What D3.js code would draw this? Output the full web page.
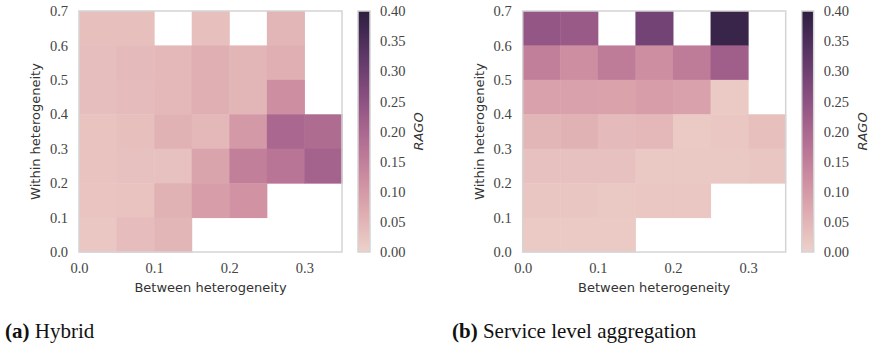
<!DOCTYPE html>
<html>
<head>
<meta charset="utf-8">
<script src="https://cdn.jsdelivr.net/npm/d3@7"></script>
<style>
  body { margin: 0; background: #fff; }
  .tick text { font-family: "Liberation Serif", "DejaVu Serif", serif; font-size: 14.5px; fill: #444; }
  .lbl { font-family: "DejaVu Sans", sans-serif; font-size: 13px; fill: #333; }
  .cap { font-family: "Liberation Serif", serif; font-size: 21px; fill: #111; }
</style>
</head>
<body>
<div id="chart"></div>
<script>
// bins (lower edges)
var xBins = [0, 0.05, 0.10, 0.15, 0.20, 0.25, 0.30];
var yBins = [0.6, 0.5, 0.4, 0.3, 0.2, 0.1, 0.0]; // rows listed top to bottom
var xTicks = [0, 0.1, 0.2, 0.3];
var yTicks = [0, 0.1, 0.2, 0.3, 0.4, 0.5, 0.6, 0.7];
var cbTicks = [0, 0.05, 0.10, 0.15, 0.20, 0.25, 0.30, 0.35, 0.40];

// RAGO, null = no data
var hybrid = [
  [0.030, 0.030, null,  0.030, null,  0.050, null ],
  [0.033, 0.040, 0.045, 0.060, 0.050, 0.060, null ],
  [0.033, 0.037, 0.045, 0.060, 0.050, 0.120, null ],
  [0.025, 0.030, 0.055, 0.045, 0.100, 0.200, 0.190],
  [0.025, 0.028, 0.028, 0.080, 0.150, 0.170, 0.210],
  [0.022, 0.025, 0.055, 0.090, 0.110, null,  null ],
  [0.018, 0.035, 0.050, null,  null,  null,  null ]
];
var service = [
  [0.240, 0.230, null,  0.290, null,  0.380, null ],
  [0.150, 0.120, 0.155, 0.120, 0.155, 0.220, null ],
  [0.085, 0.085, 0.082, 0.090, 0.085, 0.012, null ],
  [0.050, 0.055, 0.040, 0.045, 0.012, 0.018, 0.030],
  [0.028, 0.028, 0.028, 0.015, 0.015, 0.015, 0.020],
  [0.020, 0.020, 0.015, 0.018, 0.018, null,  null ],
  [0.012, 0.013, 0.012, null,  null,  null,  null ]
];
var captions = [["(a)", "Hybrid"], ["(b)", "Service level aggregation"]];

// seaborn default cubehelix_palette (start 0, rot .4, hue .8, light .85, dark .15)
function cubehelix(v) {
  var x = 0.85 - 0.7 * v, a = 0.8 * x * (1 - x) / 2, phi = 2 * Math.PI * (0.4 * x);
  var c = Math.cos(phi), s = Math.sin(phi);
  var r = x + a * (-0.14861 * c + 1.78277 * s),
      g = x + a * (-0.29227 * c - 0.90649 * s),
      b = x + a * (1.97294 * c);
  function cl(q) { return Math.round(Math.max(0, Math.min(1, q)) * 255); }
  return "rgb(" + cl(r) + "," + cl(g) + "," + cl(b) + ")";
}

var W = 873, H = 349;
var svg = d3.select("#chart").append("svg").attr("width", W).attr("height", H);

var color = d3.scaleSequential(cubehelix).domain([0, 0.4]);

var grad = svg.append("defs").append("linearGradient")
  .attr("id", "cbgrad").attr("x1", 0).attr("y1", 1).attr("x2", 0).attr("y2", 0);
d3.range(0, 1.0001, 0.05).forEach(function(t) {
  grad.append("stop").attr("offset", t).attr("stop-color", cubehelix(t));
});

function panel(offset, data, cap) {
  var left = 79 + offset, right = 342 + offset, top = 11, bottom = 252;
  var x = d3.scaleLinear().domain([0, 0.35]).range([left, right]);
  var y = d3.scaleLinear().domain([0, 0.7]).range([bottom, top]);
  var g = svg.append("g");

  var cells = [];
  data.forEach(function(row, i) {
    row.forEach(function(v, j) {
      if (v !== null) cells.push({ x0: xBins[j], y0: yBins[i], v: v });
    });
  });
  g.selectAll("rect.cell").data(cells).enter().append("rect")
    .attr("class", "cell")
    .attr("x", function(d) { return x(d.x0); })
    .attr("y", function(d) { return y(d.y0 + 0.1); })
    .attr("width", function(d) { return x(d.x0 + 0.05) - x(d.x0) + 0.5; })
    .attr("height", function(d) { return y(d.y0) - y(d.y0 + 0.1) + 0.5; })
    .attr("fill", function(d) { return color(d.v); });

  g.append("rect").attr("x", left).attr("y", top)
    .attr("width", right - left).attr("height", bottom - top)
    .attr("fill", "none").attr("stroke", "#d4d4d4").attr("stroke-width", 1.5);

  g.append("g").attr("transform", "translate(0," + bottom + ")")
    .call(d3.axisBottom(x).tickValues(xTicks).tickFormat(d3.format(".1f")).tickSize(0).tickPadding(11))
    .call(function(a) { a.select(".domain").remove(); });
  g.append("g").attr("transform", "translate(" + left + ",0)")
    .call(d3.axisLeft(y).tickValues(yTicks).tickFormat(d3.format(".1f")).tickSize(0).tickPadding(11))
    .call(function(a) { a.select(".domain").remove(); });

  g.append("text").attr("class", "lbl")
    .attr("x", (left + right) / 2).attr("y", 292)
    .attr("text-anchor", "middle").text("Between heterogeneity");
  g.append("text").attr("class", "lbl")
    .attr("transform", "translate(" + (40 + offset) + "," + ((top + bottom) / 2) + ") rotate(-90)")
    .attr("text-anchor", "middle").text("Within heterogeneity");

  // colorbar
  var cbx = 358 + offset, cbw = 12;
  var cy = d3.scaleLinear().domain([0, 0.4]).range([bottom, top]);
  g.append("rect").attr("x", cbx).attr("y", top).attr("width", cbw).attr("height", bottom - top)
    .attr("fill", "url(#cbgrad)").attr("stroke", "#d4d4d4").attr("stroke-width", 1.5);
  g.append("g").attr("transform", "translate(" + (cbx + cbw) + ",0)")
    .call(d3.axisRight(cy).tickValues(cbTicks).tickFormat(d3.format(".2f")).tickSize(0).tickPadding(10))
    .call(function(a) { a.select(".domain").remove(); });
  g.append("text").attr("class", "lbl")
    .attr("transform", "translate(" + (423 + offset) + "," + ((top + bottom) / 2) + ") rotate(-90)")
    .attr("text-anchor", "middle").style("font-style", "italic").text("RAGO");

  var t = g.append("text").attr("class", "cap")
    .attr("x", (offset ? 452 : 5)).attr("y", 338);
  t.append("tspan").style("font-weight", "bold").text(cap[0]);
  t.append("tspan").text(" " + cap[1]);
}

panel(0, hybrid, captions[0]);
panel(443.7, service, captions[1]);
</script>
</body>
</html>
